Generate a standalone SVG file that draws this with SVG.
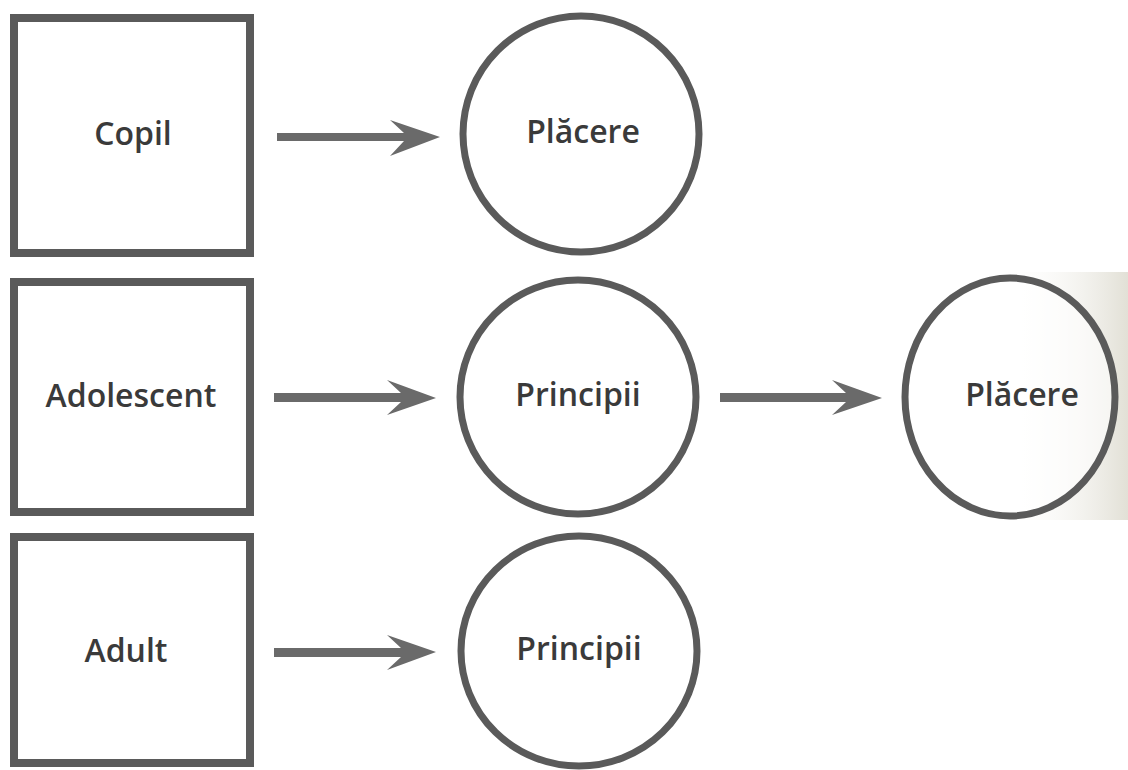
<svg xmlns="http://www.w3.org/2000/svg" width="1128" height="770" viewBox="0 0 1128 770">
<defs>
<style>
.box{fill:#ffffff;stroke:#5a5a5a;stroke-width:8}
.circ{fill:#ffffff;stroke:#5a5a5a;stroke-width:7}
.lbl{font-family:"Open Sans","Liberation Sans",sans-serif;font-weight:600;font-size:32px;fill:#3a3a3a;text-anchor:middle}
.arr{fill:#6a6a6a}
</style>
<linearGradient id="shade" x1="0" y1="0" x2="1" y2="0">
<stop offset="0" stop-color="#ffffff" stop-opacity="0"/>
<stop offset="1" stop-color="#e2e0d6"/>
</linearGradient>
</defs>
<rect width="1128" height="770" fill="#ffffff"/>
<rect x="1000" y="272" width="128" height="248" fill="url(#shade)"/>
<g id="copil"><rect class="box" x="14" y="18" width="236" height="235"/><text class="lbl" x="133" y="145">Copil</text></g>
<g id="placere1"><ellipse class="circ" cx="581" cy="134" rx="118" ry="118"/><text class="lbl" x="583" y="143">Plăcere</text></g>
<g id="adolescent"><rect class="box" x="14" y="282" width="236" height="230"/><text class="lbl" x="131" y="407">Adolescent</text></g>
<g id="principii1"><ellipse class="circ" cx="578" cy="397" rx="118" ry="117"/><text class="lbl" x="578" y="406">Principii</text></g>
<g id="placere2"><ellipse class="circ" cx="1010" cy="397" rx="105" ry="119" fill-opacity="0.6"/><text class="lbl" x="1022" y="406">Plăcere</text></g>
<g id="adult"><rect class="box" x="14" y="537" width="236" height="226"/><text class="lbl" x="126" y="662">Adult</text></g>
<g id="principii2"><ellipse class="circ" cx="579" cy="651" rx="118" ry="115"/><text class="lbl" x="579" y="660">Principii</text></g>
<g id="connectors">
<path class="arr" d="M277,133 L404,133 L390,120 L440,137 L390,156 L404,141 L277,141 Z"/>
<path class="arr" d="M274,393 L401,393 L387,380 L436,398 L387,415 L401,402 L274,402 Z"/>
<path class="arr" d="M720,393 L846,393 L832,380 L882,398 L832,415 L846,402 L720,402 Z"/>
<path class="arr" d="M274,648 L401,648 L387,635 L436,652 L387,670 L401,657 L274,657 Z"/>
</g>
</svg>
